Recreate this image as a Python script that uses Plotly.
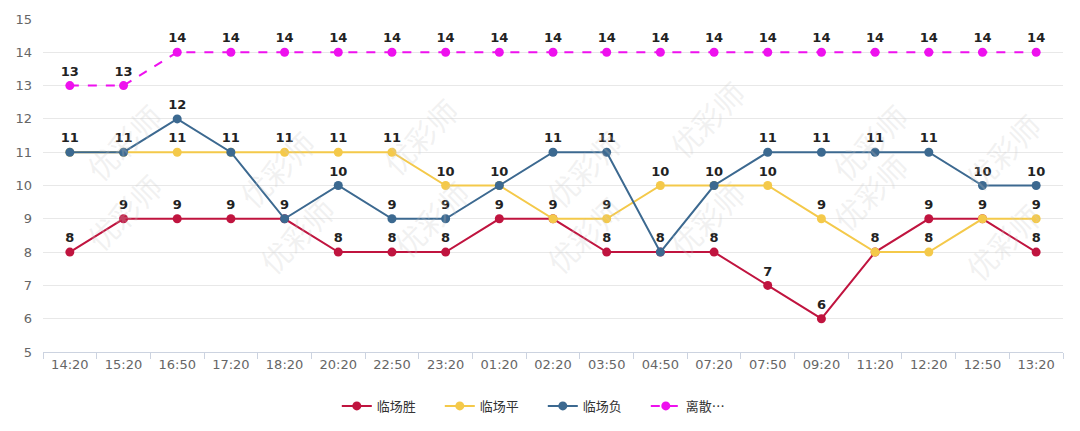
import plotly.graph_objects as go

times = ["14:20", "15:20", "16:50", "17:20", "18:20", "20:20", "22:50", "23:20", "01:20", "02:20",
         "03:50", "04:50", "07:20", "07:50", "09:20", "11:20", "12:20", "12:50", "13:20"]
win = [8, 9, 9, 9, 9, 8, 8, 8, 9, 9, 8, 8, 8, 7, 6, 8, 9, 9, 8]
draw = [11, 11, 11, 11, 11, 11, 11, 10, 10, 9, 9, 10, 10, 10, 9, 8, 8, 9, 9]
lose = [11, 11, 12, 11, 9, 10, 9, 9, 10, 11, 11, 8, 10, 11, 11, 11, 11, 10, 10]
disp = [13, 13, 14, 14, 14, 14, 14, 14, 14, 14, 14, 14, 14, 14, 14, 14, 14, 14, 14]

names = ["临场胜", "临场平", "临场负", "离散…"]
colors = ["#c0143f", "#f4c94a", "#3c6990", "#ee11ee"]
series = [win, draw, lose, disp]
dashes = ["solid", "solid", "solid", "dash"]

# hide duplicate labels where series share the same value at a point (later series wins)
labels = []
for si, s in enumerate(series):
    lab = []
    for i, v in enumerate(s):
        dup = any(series[sj][i] == v for sj in range(si + 1, len(series)))
        lab.append("" if dup else str(v))
    labels.append(lab)

fig = go.Figure()
for s, n, c, d, lab in zip(series, names, colors, dashes, labels):
    fig.add_trace(go.Scatter(
        x=times, y=s, name=n, mode="lines+markers+text",
        line=dict(color=c, width=2, dash=d),
        marker=dict(color=c, size=9),
        text=lab, textposition="top center",
        textfont=dict(family="DejaVu Sans, sans-serif", size=13, color="#222", weight="bold"),
        cliponaxis=False,
    ))

# faint watermark
wm = [(0.03, 0.78), (0.03, 0.27), (0.18, 0.70), (0.20, 0.35), (0.37, 0.80), (0.38, 0.25),
      (0.53, 0.70), (0.53, 0.20), (0.70, 0.85), (0.70, 0.40), (0.86, 0.78), (0.86, 0.33),
      (0.99, 0.60), (0.99, 0.18)]
for (wx, wy) in wm:
    fig.add_annotation(x=wx, y=wy, xref="paper", yref="paper", text="优彩师", showarrow=False,
                       textangle=-45, font=dict(family="Noto Sans CJK SC", size=30,
                                                color="rgba(200,200,200,0.25)"))

fig.update_layout(
    width=1080, height=431,
    margin=dict(l=35, r=25, t=11, b=87, autoexpand=False),
    paper_bgcolor="white", plot_bgcolor="white",
    font=dict(family="DejaVu Sans, sans-serif", color="#666", size=12),
    showlegend=True,
    legend=dict(orientation="h", x=0.49, xanchor="center", y=-0.162, yanchor="middle",
                font=dict(family="Noto Sans CJK SC", size=13, color="#333"),
                itemwidth=30, entrywidth=58),
    xaxis=dict(type="category", range=[-0.5, 18.5], tickson="boundaries", automargin=False,
               showgrid=False, showline=True, linecolor="#ccd3e0", linewidth=1,
               ticks="outside", ticklen=6, tickcolor="#ccd3e0",
               tickfont=dict(color="#666", size=13)),
    yaxis=dict(range=[5, 15], dtick=1, showgrid=True, gridcolor="#e8e8e8", automargin=False,
               zeroline=False, showline=False, tickfont=dict(color="#666", size=13),
               ticklabelstandoff=10),
)

fig.write_html("out.html")
